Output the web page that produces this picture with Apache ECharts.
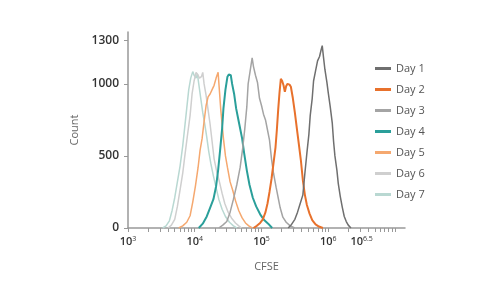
<!DOCTYPE html>
<html><head><meta charset="utf-8">
<script src="https://cdn.jsdelivr.net/npm/echarts@6/dist/echarts.min.js"></script>
<style>html,body{margin:0;padding:0;background:#fff}#c{width:500px;height:300px}</style>
</head><body><div id="c"></div>
<script>
// x values are log10(CFSE)
const seriesNames = ['Day 1','Day 2','Day 3','Day 4','Day 5','Day 6','Day 7'];
const colors = ['#6f6f6f','#e8712c','#a4a4a4','#2a9f9a','#f5a86f','#cfcfcf','#b9d8d2'];
const day1 = [[5.40,0],[5.45,25],[5.50,60],[5.54,110],[5.58,170],[5.62,230],[5.65,380],[5.68,520],[5.71,650],[5.73,780],[5.76,900],[5.78,1020],[5.81,1090],[5.84,1160],[5.87,1190],[5.89,1230],[5.91,1265],[5.93,1180],[5.95,1100],[5.98,1010],[6.00,940],[6.03,840],[6.06,730],[6.08,600],[6.10,500],[6.13,400],[6.15,310],[6.18,220],[6.21,145],[6.24,80],[6.27,45],[6.30,20],[6.34,0]];
const day2 = [[4.88,0],[4.93,15],[4.98,35],[5.02,60],[5.06,110],[5.09,170],[5.12,250],[5.15,340],[5.18,450],[5.21,560],[5.23,680],[5.25,820],[5.27,940],[5.29,1035],[5.31,1020],[5.33,990],[5.35,945],[5.37,985],[5.39,1000],[5.42,995],[5.44,980],[5.47,900],[5.50,800],[5.53,690],[5.56,580],[5.59,470],[5.62,330],[5.65,230],[5.68,160],[5.72,100],[5.76,55],[5.81,25],[5.86,10],[5.92,0]];
const day3 = [[4.36,0],[4.42,20],[4.48,45],[4.53,110],[4.58,200],[4.63,300],[4.68,420],[4.72,560],[4.75,690],[4.78,840],[4.80,1000],[4.83,1090],[4.86,1180],[4.88,1120],[4.91,1060],[4.94,1010],[4.97,900],[5.00,850],[5.03,790],[5.06,750],[5.09,680],[5.12,610],[5.15,480],[5.18,380],[5.22,280],[5.25,210],[5.28,140],[5.32,75],[5.37,40],[5.43,15],[5.50,0]];
const day4 = [[4.06,0],[4.12,30],[4.18,80],[4.23,140],[4.28,200],[4.32,290],[4.35,400],[4.38,540],[4.41,690],[4.43,830],[4.46,960],[4.49,1050],[4.51,1065],[4.54,1060],[4.56,1000],[4.59,930],[4.62,830],[4.65,760],[4.68,690],[4.71,620],[4.74,520],[4.78,400],[4.82,300],[4.87,210],[4.92,150],[4.98,95],[5.04,55],[5.10,30],[5.16,0]];
const day5 = [[3.76,0],[3.82,15],[3.88,40],[3.93,85],[3.97,180],[4.01,290],[4.05,420],[4.08,540],[4.11,620],[4.14,740],[4.17,850],[4.20,910],[4.23,930],[4.26,960],[4.29,990],[4.32,1040],[4.35,1080],[4.37,950],[4.39,820],[4.41,720],[4.43,620],[4.46,500],[4.49,420],[4.53,320],[4.57,260],[4.61,190],[4.66,120],[4.71,70],[4.76,35],[4.81,15],[4.86,0]];
const day6 = [[3.60,0],[3.65,20],[3.70,60],[3.74,150],[3.78,265],[3.82,380],[3.85,495],[3.89,640],[3.93,780],[3.96,930],[3.99,1020],[4.02,1080],[4.05,1060],[4.07,1040],[4.10,1050],[4.12,1080],[4.14,1000],[4.17,920],[4.20,820],[4.23,720],[4.26,600],[4.29,480],[4.33,390],[4.37,320],[4.41,240],[4.45,170],[4.50,110],[4.55,70],[4.61,35],[4.66,15],[4.70,0]];
const day7 = [[3.52,0],[3.57,15],[3.62,50],[3.66,120],[3.70,210],[3.74,320],[3.78,430],[3.82,570],[3.85,700],[3.88,830],[3.91,960],[3.94,1040],[3.97,1085],[3.99,1060],[4.02,1040],[4.04,1070],[4.06,1000],[4.09,900],[4.12,800],[4.15,720],[4.18,630],[4.21,530],[4.24,450],[4.28,360],[4.32,280],[4.36,200],[4.41,130],[4.46,80],[4.52,40],[4.58,15],[4.63,0]];
const xLabelExps = [3,4,5,6,6.5];
const yLabelValues = [0,500,1000,1300];

const allData = [day1,day2,day3,day4,day5,day6,day7];
const widths = [1.5,2,1.5,2,1.5,1.5,1.5];

const xTicks = [];
for (let e = 3; e <= 6; e++) for (let k = 1; k <= 9; k++) xTicks.push(Math.log10(k) + e);
xTicks.push(7);

const chart = echarts.init(document.getElementById('c'), null, {renderer:'canvas'});
chart.setOption({
  animation:false,
  backgroundColor:'#fff',
  color: colors,
  grid:{left:128, right:95, top:32, bottom:72},
  legend:{
    orient:'vertical', left:370, top:58, itemGap:10,
    icon:'rect', itemWidth:16, itemHeight:3,
    textStyle:{color:'#555', fontSize:11, fontFamily:'Open Sans'},
    data: seriesNames
  },
  xAxis:{
    type:'value', min:3, max:7.15,
    name:'CFSE', nameLocation:'middle', nameGap:33,
    nameTextStyle:{color:'#666', fontSize:11, fontFamily:'Open Sans'},
    axisLine:{show:true, lineStyle:{color:'#999', width:1.5}},
    splitLine:{show:false},
    axisTick:{show:true, length:4, lineStyle:{color:'#999'}, customValues: xTicks},
    axisLabel:{
      customValues: xLabelExps, margin:7,
      formatter: v => '{a|10}{b|' + v + '}',
      rich:{
        a:{fontSize:11, color:'#333', fontFamily:'Open Sans', fontWeight:600},
        b:{fontSize:7, color:'#333', fontFamily:'Open Sans', padding:[0,0,6,0]}
      }
    }
  },
  yAxis:{
    type:'value', min:0, max:1360,
    name:'Count', nameLocation:'middle', nameGap:42, nameRotate:90,
    nameTextStyle:{color:'#666', fontSize:11, fontFamily:'Open Sans'},
    axisLine:{show:true, lineStyle:{color:'#999', width:1.5}},
    splitLine:{show:false},
    axisTick:{show:true, length:4, lineStyle:{color:'#999'}, customValues: yLabelValues},
    axisLabel:{customValues: yLabelValues, formatter: v => String(v), color:'#333', fontSize:12, fontFamily:'Open Sans', fontWeight:600, margin:9}
  },
  series: seriesNames.map((n,i) => ({
    name:n, type:'line', data: allData[i], showSymbol:false, symbol:'none',
    lineStyle:{width: widths[i], color: colors[i]},
    z: 10 - i
  }))
});
</script></body></html>
